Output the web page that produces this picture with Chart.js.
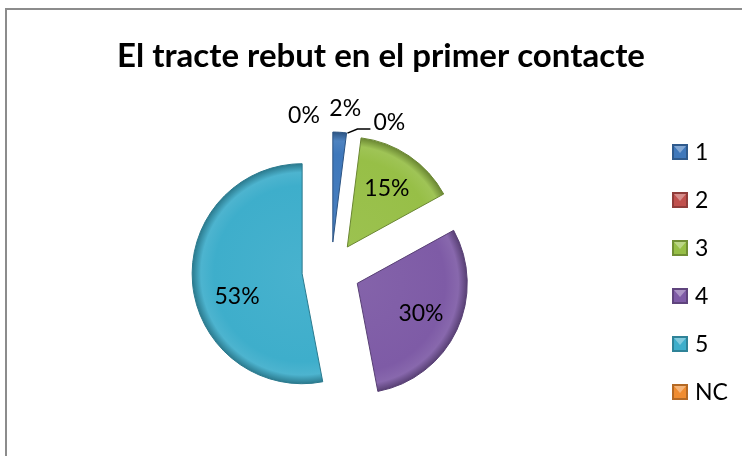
<!DOCTYPE html>
<html>
<head>
<meta charset="utf-8">
<script src="https://cdn.jsdelivr.net/npm/chart.js@4.4.1/dist/chart.umd.min.js"></script>
<style>
    html, body { margin: 0; padding: 0; background: #fff; overflow: hidden; }
    #frame { position: absolute; left: 5px; top: 8px; width: 780px; height: 480px; border: 2px solid #8c8c8c; }
    #wrap { position: absolute; left: 0; top: 0; width: 742px; height: 456px; }
</style>
</head>
<body>
<div id="frame"></div>
<div id="wrap"><canvas id="chart"></canvas></div>
<script>
const chartTitle = 'El tracte rebut en el primer contacte';
const categories = ['1', '2', '3', '4', '5', 'NC'];
const percentages = [2, 0, 15, 30, 53, 0];
const sliceColors = ['#3f78bb', '#c0504d', '#97bf47', '#7e5ba6', '#3eaecb', '#f08c30'];

const pieRadius = 110;
const explodeDistance = 29;
const labelFont = '23px Lato';

// ################################################################################################
function shade(hex, f) {
    let r = parseInt(hex.slice(1, 3), 16);
    let g = parseInt(hex.slice(3, 5), 16);
    let b = parseInt(hex.slice(5, 7), 16);
    if (f >= 0) {
        r += (255 - r) * f; g += (255 - g) * f; b += (255 - b) * f;
    } else {
        r *= 1 + f; g *= 1 + f; b *= 1 + f;
    }
    return `rgb(${Math.round(r)}, ${Math.round(g)}, ${Math.round(b)})`;
}

function sliceFill(c) {
    const area = c.chart.chartArea;
    const base = sliceColors[c.dataIndex];
    if (!area) return base;
    const cx = (area.left + area.right) / 2;
    const cy = (area.top + area.bottom) / 2;
    const g = c.chart.ctx.createRadialGradient(cx, cy, 0, cx, cy, pieRadius);
    g.addColorStop(0, shade(base, 0.05));
    g.addColorStop(0.8, base);
    g.addColorStop(0.92, shade(base, 0.08));
    g.addColorStop(1, shade(base, -0.3));
    return g;
}

// pull every slice out along its middle angle, like the exploded pie in Excel
const explodePlugin = {
    id: 'explode',
    afterDatasetUpdate(chart) {
        chart.getDatasetMeta(0).data.forEach(arc => {
            if (arc._exploded) return;
            arc._exploded = true;
            const baseDraw = arc.draw;
            arc.draw = function (ctx) {
                const mid = (this.startAngle + this.endAngle) / 2;
                ctx.save();
                ctx.translate(Math.cos(mid) * explodeDistance, Math.sin(mid) * explodeDistance);
                baseDraw.call(this, ctx);
                ctx.restore();
            };
        });
    }
};

const decorPlugin = {
    id: 'decor',
    afterDatasetsDraw(chart) {
        const ctx = chart.ctx;
        const arcs = chart.getDatasetMeta(0).data;
        ctx.save();
        ctx.fillStyle = '#000';
        ctx.font = labelFont;
        ctx.textBaseline = 'middle';
        ctx.textAlign = 'center';

        arcs.forEach((arc, i) => {
            const mid = (arc.startAngle + arc.endAngle) / 2;
            const dx = Math.cos(mid), dy = Math.sin(mid);
            const ax = arc.x + dx * explodeDistance;
            const ay = arc.y + dy * explodeDistance;
            const text = percentages[i] + '%';
            if (percentages[i] >= 10) {
                let lx = ax + dx * pieRadius * 0.64;
                let ly = ay + dy * pieRadius * 0.64;
                if (percentages[i] > 50) { lx += 5; ly += 16; }
                ctx.fillText(text, lx, ly);
            } else if (percentages[i] > 0) {
                ctx.fillText(text, ax + dx * (pieRadius + 24) + 4, ay + dy * (pieRadius + 24));
            } else if (i === categories.length - 1) {
                ctx.fillText(text, ax + dx * pieRadius - 27, ay + dy * pieRadius - 16);
            } else {
                // leader line for the empty slice on the right side of the top
                const ox = ax + dx * pieRadius, oy = ay + dy * pieRadius;
                ctx.strokeStyle = '#000';
                ctx.lineWidth = 1.5;
                ctx.beginPath();
                ctx.moveTo(ox - 1, oy);
                ctx.lineTo(ox + 9, oy - 4);
                ctx.lineTo(ox + 22, oy - 4);
                ctx.stroke();
                ctx.textAlign = 'left';
                ctx.fillText(text, ox + 25, oy - 11);
                ctx.textAlign = 'center';
            }
        });

        // title
        ctx.font = 'bold 33px Lato';
        ctx.textAlign = 'center';
        const w = ctx.measureText(chartTitle).width;
        ctx.save();
        ctx.translate(381, 56);
        ctx.scale(Math.min(1, 562 / w), 1);
        ctx.fillText(chartTitle, 0, 0);
        ctx.restore();

        // legend
        ctx.font = labelFont;
        ctx.textAlign = 'left';
        categories.forEach((name, i) => {
            const y = 152 + i * 48;
            const x = 672, s = 16;
            const base = sliceColors[i];
            ctx.fillStyle = shade(base, -0.25);
            ctx.fillRect(x, y - s / 2, s, s);
            ctx.fillStyle = base;
            ctx.fillRect(x + 2, y - s / 2 + 2, s - 4, s - 4);
            ctx.fillStyle = shade(base, 0.35);
            ctx.beginPath();
            ctx.moveTo(x + 2, y - s / 2 + 2);
            ctx.lineTo(x + s - 2, y - s / 2 + 2);
            ctx.lineTo(x + s / 2, y + 1);
            ctx.closePath();
            ctx.fill();
            ctx.fillStyle = '#000';
            ctx.fillText(name, x + 23, y + 1);
        });
        ctx.restore();
    }
};

new Chart(document.getElementById('chart'), {
    type: 'pie',
    data: {
        labels: categories,
        datasets: [{
            data: percentages,
            backgroundColor: sliceFill,
            borderColor: categories.map((c, i) => shade(sliceColors[i], -0.3)),
            borderWidth: 1
        }]
    },
    options: {
        responsive: true,
        maintainAspectRatio: false,
        animation: false,
        radius: pieRadius,
        layout: {
            padding: { left: 100, right: 180, top: 100, bottom: 14 }
        },
        plugins: {
            legend: { display: false },
            title: { display: false },
            tooltip: { enabled: false }
        }
    },
    plugins: [explodePlugin, decorPlugin]
});
</script>
</body>
</html>
